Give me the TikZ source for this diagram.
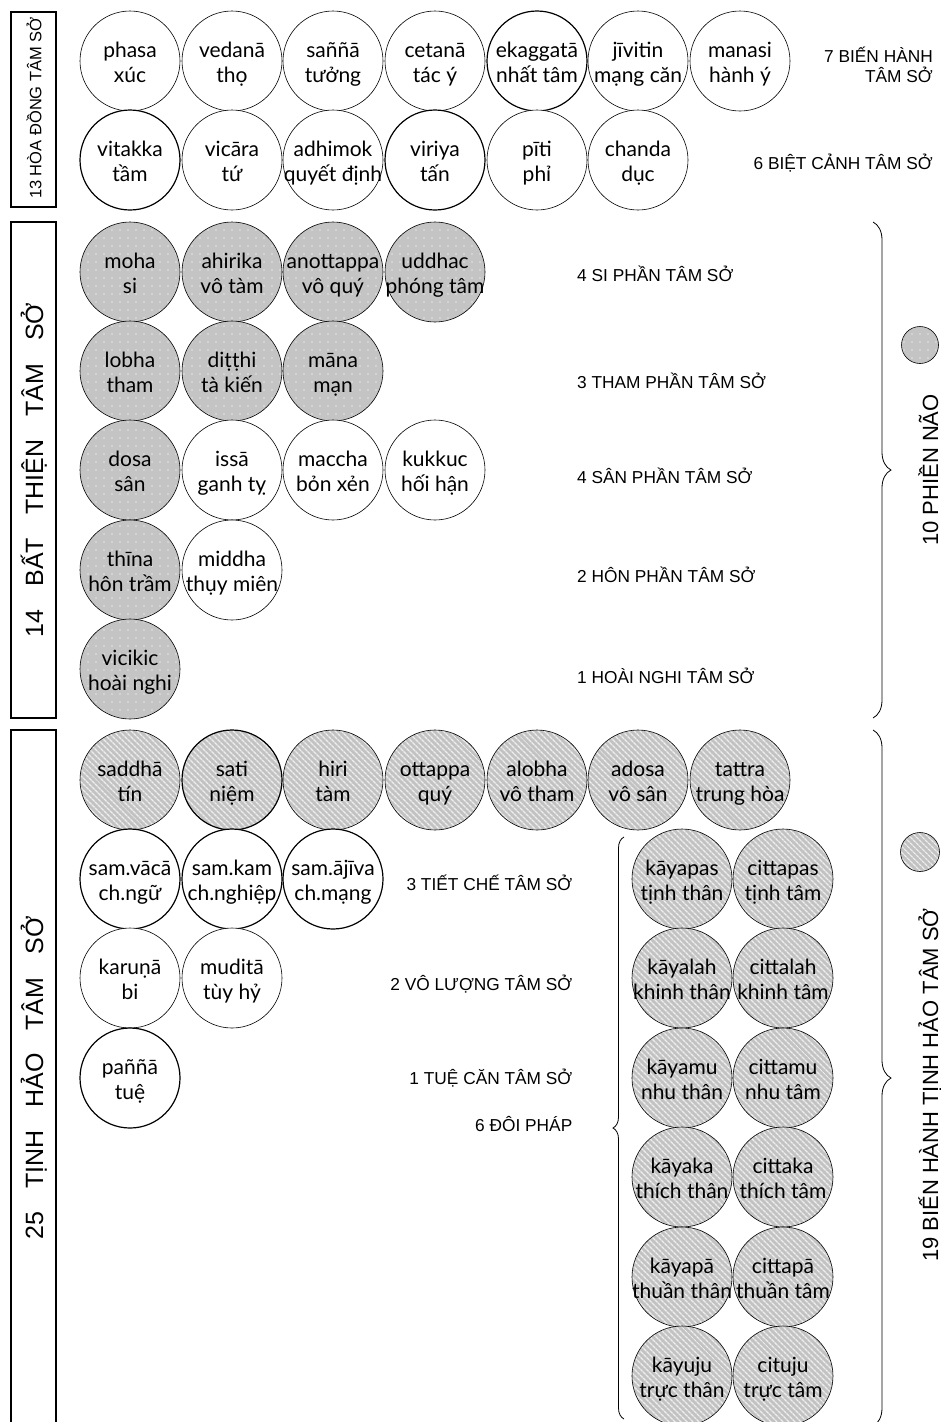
\documentclass[tikz,border=0pt]{standalone}
\usepackage{fontspec}
\setmainfont{Lato}
\newfontfamily\lsans{Liberation Sans}
\usetikzlibrary{patterns.meta,decorations.pathreplacing}

\definecolor{dotgray}{RGB}{196,196,196}
\definecolor{dotlight}{RGB}{228,228,228}
\definecolor{stripegray}{RGB}{194,194,194}
\definecolor{stripelight}{RGB}{238,238,238}

% two-line circle labels with fixed line positions
\newcommand\dmfont{\fontsize{21}{24.8}\selectfont\lineskiplimit=-50pt\relax}
\newcommand\dmstrut{\rule[-5pt]{0pt}{27.4pt}}
\newcommand\dm[2]{\dmstrut#1\\\dmstrut#2}
\newcommand\capfont{\lsans\fontsize{17.3}{18}\selectfont}
\newcommand\bigcapfont{\lsans\fontsize{25}{26}\selectfont}
\newcommand\sidefont{\lsans\fontsize{22}{24}\selectfont}
\newcommand\boxfont{\lsans\fontsize{16.5}{18}\selectfont}
\newcommand\wgap{\hspace{0.92em}}

\begin{document}
\begin{tikzpicture}[x=1pt,y=-1pt,
  % negative inner sep keeps every circle at exactly the minimum size
  dm/.style={circle, draw=black, line width=0.6pt, minimum size=100pt,
             inner sep=-16pt, align=center, font=\dmfont},
  plain/.style={dm, fill=white},
  heavy/.style={line width=1.2pt},
  dotted fill/.style={dm, preaction={fill=dotgray},
             pattern={Dots[distance=8pt,radius=0.8pt]}, pattern color=dotlight},
  striped fill/.style={dm, preaction={fill=stripegray},
             pattern={Lines[angle=-45,distance=4pt,line width=1.4pt]}, pattern color=stripelight},
  groupbox/.style={draw=black, line width=1.6pt, minimum width=45pt, inner sep=0pt},
  note/.style={font=\capfont, inner sep=0pt},
  brace line/.style={draw=black, line width=0.8pt, decorate},
]
\useasboundingbox (0,0) rectangle (940,1422);
\clip (0,0) rectangle (940,1422);

% ---------- group boxes on the left ----------
\node[groupbox, minimum height=195pt] (box13) at (33.5,109.5) {};
\node[groupbox, minimum height=496pt] (box14) at (33.5,470) {};
\node[groupbox, minimum height=696pt] (box25) at (33.5,1078) {};
\node[rotate=90, anchor=base, font=\boxfont, inner sep=0pt] (t13) at (41.5,108) {13 HÒA ĐỒNG TÂM SỞ};
\node[rotate=90, anchor=base, font=\bigcapfont, inner sep=0pt] (t14) at (43,470)
  {14\wgap BẤT\wgap THIỆN\wgap TÂM\wgap SỞ};
\node[rotate=90, anchor=base, font=\bigcapfont, inner sep=0pt] (t25) at (43,1078)
  {25\wgap TỊNH\wgap HẢO\wgap TÂM\wgap SỞ};

% ---------- 13 common mental factors ----------
\node[plain] (phasa)   at (130,61)  {\dm{phasa}{xúc}};
\node[plain] (vedana)  at (232,61)  {\dm{vedanā}{thọ}};
\node[plain] (sanna)   at (333,61)  {\dm{saññā}{tưởng}};
\node[plain] (cetana)  at (435,61)  {\dm{cetanā}{tác ý}};
\node[plain, heavy] (ekagg) at (537,61) {\dm{ekaggatā}{nhất tâm}};
\node[plain] (jivit)   at (638,61)  {\dm{jīvitin}{mạng căn}};
\node[plain] (manasi)  at (740,61)  {\dm{manasi}{hành ý}};

\node[plain, heavy] (vitakka) at (130,160) {\dm{vitakka}{tầm}};
\node[plain] (vicara)  at (232,160) {\dm{vicāra}{tứ}};
\node[plain] (adhim)   at (333,160) {\dm{adhimok}{quyết định}};
\node[plain, heavy] (viriya) at (435,160) {\dm{viriya}{tấn}};
\node[plain] (piti)    at (537,160) {\dm{pīti}{phỉ}};
\node[plain] (chanda)  at (638,160) {\dm{chanda}{dục}};

\node[note, anchor=base east] (l7a) at (933,62) {7 BIẾN HÀNH};
\node[note, anchor=base east] (l7b) at (933,82) {TÂM SỞ};
\node[note, anchor=base east] (l6)  at (933,169) {6 BIỆT CẢNH TÂM SỞ};

% ---------- 14 unwholesome mental factors ----------
\node[dotted fill] (moha)   at (130,272) {\dm{moha}{si}};
\node[dotted fill] (ahir)   at (232,272) {\dm{ahirika}{vô tàm}};
\node[dotted fill] (anott)  at (333,272) {\dm{anottappa}{vô quý}};
\node[dotted fill] (uddh)   at (435,272) {\dm{uddhac}{phóng tâm}};

\node[dotted fill] (lobha)  at (130,371) {\dm{lobha}{tham}};
\node[dotted fill] (ditthi) at (232,371) {\dm{diṭṭhi}{tà kiến}};
\node[dotted fill] (mana)   at (333,371) {\dm{māna}{mạn}};

\node[dotted fill] (dosa)   at (130,470) {\dm{dosa}{sân}};
\node[plain] (issa)   at (232,470) {\dm{issā}{ganh tỵ}};
\node[plain] (maccha) at (333,470) {\dm{maccha}{bỏn xẻn}};
\node[plain] (kukk)   at (435,470) {\dm{kukkuc}{hối hận}};

\node[dotted fill] (thina)  at (130,570) {\dm{thīna}{hôn trầm}};
\node[plain] (middha) at (232,570) {\dm{middha}{thụy miên}};

\node[dotted fill] (vicik)  at (130,669) {\dm{vicikic}{hoài nghi}};

\node[note, anchor=base west] (lsi)   at (577,281) {4 SI PHẦN TÂM SỞ};
\node[note, anchor=base west] (ltham) at (577,388) {3 THAM PHẦN TÂM SỞ};
\node[note, anchor=base west] (lsan)  at (577,483) {4 SÂN PHẦN TÂM SỞ};
\node[note, anchor=base west] (lhon)  at (577,582) {2 HÔN PHẦN TÂM SỞ};
\node[note, anchor=base west] (lhoai) at (577,683) {1 HOÀI NGHI TÂM SỞ};

\coordinate (b1top) at (873,222);
\coordinate (b1bot) at (873,718);
\path[brace line, decoration={brace, amplitude=18pt}] (b1top) -- (b1bot);
\node[dotted fill, minimum size=37pt, inner sep=0pt] (legdot) at (920,345) {};
\node[rotate=90, anchor=base, font=\sidefont, inner sep=0pt] (l10) at (938,470) {10 PHIỀN NÃO};

% ---------- 25 beautiful mental factors ----------
\node[striped fill] (saddha) at (130,780) {\dm{saddhā}{tín}};
\node[striped fill, heavy] (sati) at (232,780) {\dm{sati}{niệm}};
\node[striped fill] (hiri)   at (333,780) {\dm{hiri}{tàm}};
\node[striped fill] (ottap)  at (435,780) {\dm{ottappa}{quý}};
\node[striped fill] (alobha) at (537,780) {\dm{alobha}{vô tham}};
\node[striped fill] (adosa)  at (638,780) {\dm{adosa}{vô sân}};
\node[striped fill] (tattra) at (740,780) {\dm{tattra}{trung hòa}};

\node[plain, heavy] (svaca) at (130,879) {\dm{sam.vācā}{ch.ngữ}};
\node[plain, heavy] (skam)  at (232,879) {\dm{sam.kam}{ch.nghiệp}};
\node[plain, heavy] (sajiv) at (333,879) {\dm{sam.ājīva}{ch.mạng}};

\node[plain] (karuna) at (130,978) {\dm{karuṇā}{bi}};
\node[plain] (mudita) at (232,978) {\dm{muditā}{tùy hỷ}};

\node[plain, heavy] (panna) at (130,1078) {\dm{paññā}{tuệ}};

\node[note, anchor=base east] (ltiet) at (572.5,890)  {3 TIẾT CHẾ TÂM SỞ};
\node[note, anchor=base east] (lvo)   at (572.5,990)  {2 VÔ LƯỢNG TÂM SỞ};
\node[note, anchor=base east] (ltue)  at (572.5,1084) {1 TUỆ CĂN TÂM SỞ};
\node[note, anchor=base east] (ldoi)  at (572.5,1131) {6 ĐÔI PHÁP};

\node[striped fill] (kpas) at (682,879)  {\dm{kāyapas}{tịnh thân}};
\node[striped fill] (cpas) at (783,879)  {\dm{cittapas}{tịnh tâm}};
\node[striped fill] (klah) at (682,978)  {\dm{kāyalah}{khinh thân}};
\node[striped fill] (clah) at (783,978)  {\dm{cittalah}{khinh tâm}};
\node[striped fill] (kmu)  at (682,1078) {\dm{kāyamu}{nhu thân}};
\node[striped fill] (cmu)  at (783,1078) {\dm{cittamu}{nhu tâm}};
\node[striped fill] (kka)  at (682,1177) {\dm{kāyaka}{thích thân}};
\node[striped fill] (cka)  at (783,1177) {\dm{cittaka}{thích tâm}};
\node[striped fill] (kpa)  at (682,1277) {\dm{kāyapā}{thuần thân}};
\node[striped fill] (cpa)  at (783,1277) {\dm{cittapā}{thuần tâm}};
\node[striped fill] (kuju) at (682,1376) {\dm{kāyuju}{trực thân}};
\node[striped fill] (cuju) at (783,1376) {\dm{cituju}{trực tâm}};

\coordinate (b3bot) at (624,1419);
\coordinate (b3top) at (624,837);
\path[brace line, decoration={brace, amplitude=11pt}] (b3bot) -- (b3top);

\coordinate (b2top) at (873,730);
\coordinate (b2bot) at (873,1426);
\path[brace line, decoration={brace, amplitude=18pt}] (b2top) -- (b2bot);
\node[striped fill, minimum size=39pt, inner sep=0pt] (legstripe) at (920,852) {};
\node[rotate=90, anchor=base, font=\sidefont, inner sep=0pt] (l19) at (938,1085) {19 BIẾN HÀNH TỊNH HẢO TÂM SỞ};
\end{tikzpicture}
\end{document}
